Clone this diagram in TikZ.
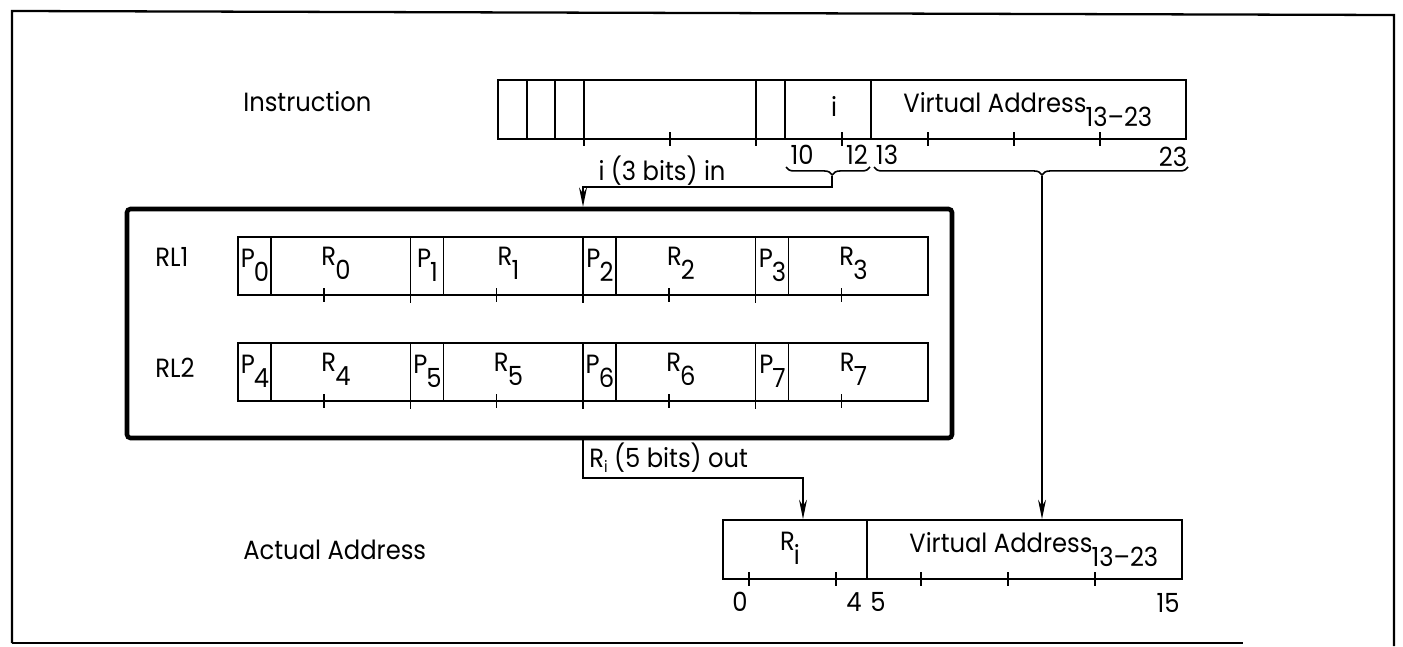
\documentclass[tikz,border=0pt]{standalone}
\usepackage{fontspec}
\setmainfont{Poppins}[FakeStretch=0.92]
\usepackage{tikz}
\usetikzlibrary{arrows.meta, positioning, fit, decorations.pathreplacing}
\newcommand{\lowsub}[2]{#1\kern-0.5pt\raisebox{-8pt}{#2}}

\begin{document}
\begin{tikzpicture}[
  x=0.02cm, y=-0.02cm,
  field/.style={draw, line width=1.1pt, inner sep=0pt},
  regfile/.style={draw, line width=2.6pt, inner sep=0pt, rounded corners=2pt},
  bitmark/.style={line width=1.1pt},
  lbl/.style={inner sep=0pt, font=\fontsize{15}{17}\selectfont},
  wire/.style={line width=0.9pt},
  brc/.style={decorate, line width=0.9pt,
    decoration={brace, mirror, amplitude=4.5pt, aspect=#1}},
  >={Stealth[length=11pt, width=4.5pt]}
]
\useasboundingbox (0,0) rectangle (1403,646);
% frame
\draw[line width=1.3pt] (12,643) -- (12,11) -- (1394,15) -- (1394,646);
\draw[line width=1.3pt] (12,643) -- (1243,643);

% instruction word
\node[lbl, anchor=west] (instrlbl) at (243,102) {Instruction};
\node[field, fit={(498,80) (1186,139)}] (instr) {};
\foreach \b in {1,2,3,9,10,13}
  \draw[bitmark] ({498+28.67*\b},80) -- ({498+28.67*\b},139);
\foreach \b in {3,6,...,21}
  \draw[bitmark] ({498+28.67*\b},132) -- ++(0,14);
\node[lbl] (ifld) at (834,106) {i};
\node[lbl, anchor=base west] (va) at (903,112) {Virtual Address\lowsub{}{13--23}};
\node[lbl] at (802,155) {10};
\node[lbl] at (857,155) {12};
\node[lbl] at (887,155) {13};
\node[lbl] at (1173,157) {23};
\draw[brc=0.55] (786,167) -- (870,167);
\draw[brc=0.535] (874,167) -- (1188,167);
\coordinate (itip) at (832,176);
\coordinate (vatip) at (1042,176);
\coordinate (iin) at (583,187);
\node[lbl] at (662,171) {i (3 bits) in};

% register lists
\node[regfile, fit={(127,209) (952,438)}] (regs) {};
\node[field, fit={(238,237) (928,295)}] (rl1) {};
\node[field, fit={(238,343) (928,401)}] (rl2) {};
\node[lbl, anchor=west] at (155,257) {RL1};
\node[lbl, anchor=west] at (155,368) {RL2};
\foreach \r/\ytop in {0/237, 1/343} {
  \foreach \k in {0,...,3} {
    \pgfmathtruncatemacro\n{4*\r+\k}
    \draw[bitmark] ({271+172.5*\k},\ytop) -- ++(0,58);
    \draw[bitmark] ({324+172.5*\k},\ytop+51) -- ++(0,14);
    \node[lbl, anchor=base] at ({255+172.5*\k},\ytop+30) {\lowsub{P}{\n}};
    \node[lbl, anchor=base] at ({336+172.5*\k},\ytop+28) {\lowsub{R}{\n}};
  }
  \foreach \k in {1,2,3}
    \draw[bitmark] ({238+172.5*\k},\ytop) -- ++(0,66);
}

% actual address
\node[lbl, anchor=west] at (243,550) {Actual Address};
\node[field, fit={(723,520) (1182,579)}] (aa) {};
\draw[bitmark] (867,520) -- (867,579);
\foreach \x in {749,836,921,1008,1095}
  \draw[bitmark] (\x,572) -- ++(0,14);
\node[lbl, anchor=base] (ri) at (790,550) {\lowsub{R}{i}};
\node[lbl, anchor=base west] at (909,552) {Virtual Address\lowsub{}{13--23}};
\node[lbl] at (740,602) {0};
\node[lbl] at (854,602) {4};
\node[lbl] at (878,602) {5};
\node[lbl] at (1168,603) {15};
\coordinate (rout) at (583,478);
\coordinate (riin) at (803,478);
\node[lbl, anchor=west] at (589,458) {R\raisebox{-3pt}{\small i} (5 bits) out};

% connectors
\draw[wire,->] (itip) |- (iin) -- (iin |- regs.north);
\draw[wire,->] (vatip) -- (vatip |- aa.north);
\draw[wire,->] (rout |- regs.south) -- (rout) -- (riin) -- (riin |- aa.north);
\end{tikzpicture}
\end{document}
